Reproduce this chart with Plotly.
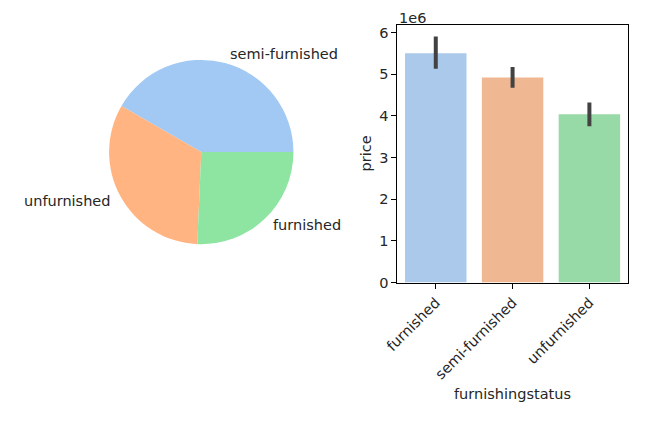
import math
import plotly.graph_objects as go

# ---- data ----
pie_labels = ["semi-furnished", "unfurnished", "furnished"]
pie_counts = [227, 178, 140]

bar_categories = ["furnished", "semi-furnished", "unfurnished"]
bar_price = [5.50e6, 4.92e6, 4.04e6]
ci_upper = [5.90e6, 5.17e6, 4.32e6]
ci_lower = [5.13e6, 4.67e6, 3.75e6]

ytick_vals = [0, 1e6, 2e6, 3e6, 4e6, 5e6, 6e6]
ytick_text = ["0", "1", "2", "3", "4", "5", "6"]

# ---- styles ----
W, H = 668, 421
FONT = "DejaVu Sans"
FS = 14.5
TXT = "#262626"
pie_colors = ["#a1c9f4", "#ffb482", "#8de5a1"]
bar_colors = ["#abc9ea", "#efb792", "#98daa7"]


def px_x(x):
    return x / W


def px_y(y):
    return (H - y) / H


# pie geometry (page pixels)
cx, cy, r = 192, 155, 94
pie_dom_x = [px_x(cx - r), px_x(cx + r)]
pie_dom_y = [px_y(cy + r), px_y(cy - r)]

total = sum(pie_counts)
first_span = pie_counts[0] / total * 360
# matplotlib: start at 3 o'clock, counterclockwise
rotation = 90 - first_span

fig = go.Figure()
fig.add_trace(go.Pie(
    labels=pie_labels, values=pie_counts, sort=False,
    direction="counterclockwise", rotation=rotation,
    marker=dict(colors=pie_colors, line=dict(width=0)),
    textinfo="none", hoverinfo="label+value",
    domain=dict(x=pie_dom_x, y=pie_dom_y), showlegend=False,
))

# pie labels like matplotlib (at 1.1 radius, mid-angle)
start = 0.0
annotations = []
for lab, v in zip(pie_labels, pie_counts):
    ang = start + v / total * 360 / 2
    start += v / total * 360
    a = math.radians(ang)
    lx = cx + 1.1 * r * math.cos(a)
    ly = cy - 1.1 * r * math.sin(a)
    annotations.append(dict(
        x=px_x(lx), y=px_y(ly), xref="paper", yref="paper",
        text=lab, showarrow=False,
        xanchor="left" if math.cos(a) > 0 else "right", yanchor="middle",
        font=dict(family=FONT, size=FS, color=TXT),
    ))

err_plus = [u - p for u, p in zip(ci_upper, bar_price)]
err_minus = [p - l for p, l in zip(bar_price, ci_lower)]

fig.add_trace(go.Bar(
    x=bar_categories, y=bar_price,
    marker=dict(color=bar_colors, line=dict(width=0)),
    error_y=dict(type="data", array=err_plus, arrayminus=err_minus,
                 color="#424242", thickness=4, width=0),
    width=0.8, showlegend=False,
))

ax_x0, ax_x1 = 392, 627
ax_y0, ax_y1 = 25, 288
fig.update_layout(
    width=W, height=H,
    margin=dict(l=0, r=0, t=0, b=0),
    paper_bgcolor="white", plot_bgcolor="white",
    font=dict(family=FONT, size=FS, color=TXT),
    xaxis=dict(
        domain=[px_x(ax_x0), px_x(ax_x1)], range=[-0.5, 2.5],
        showline=True, linecolor="black", linewidth=1, mirror=True,
        ticks="outside", ticklen=5, tickcolor="black", tickangle=-45,
        showgrid=False, zeroline=False, fixedrange=True,
        tickfont=dict(family=FONT, size=FS, color=TXT),
    ),
    yaxis=dict(
        domain=[px_y(ax_y1), px_y(ax_y0)], range=[0, 6.19e6],
        tickvals=ytick_vals, ticktext=ytick_text,
        showline=True, linecolor="black", linewidth=1, mirror=True,
        ticks="outside", ticklen=5, tickcolor="black",
        showgrid=False, zeroline=False, fixedrange=True,
        tickfont=dict(family=FONT, size=FS, color=TXT),
    ),
    annotations=annotations + [
        dict(x=px_x(ax_x0), y=px_y(8), xref="paper", yref="paper",
             text="1e6", showarrow=False, xanchor="left", yanchor="top",
             font=dict(family=FONT, size=FS, color=TXT)),
        dict(x=px_x((ax_x0 + ax_x1) / 2), y=px_y(402), xref="paper", yref="paper",
             text="furnishingstatus", showarrow=False, xanchor="center", yanchor="middle",
             font=dict(family=FONT, size=FS, color=TXT)),
        dict(x=px_x(360), y=px_y((ax_y0 + ax_y1) / 2), xref="paper", yref="paper",
             text="price", showarrow=False, textangle=-90,
             xanchor="center", yanchor="middle",
             font=dict(family=FONT, size=FS, color=TXT)),
    ],
)

fig.write_html("out.html", config={"displayModeBar": False},
               post_script="document.body.style.margin='0';")
